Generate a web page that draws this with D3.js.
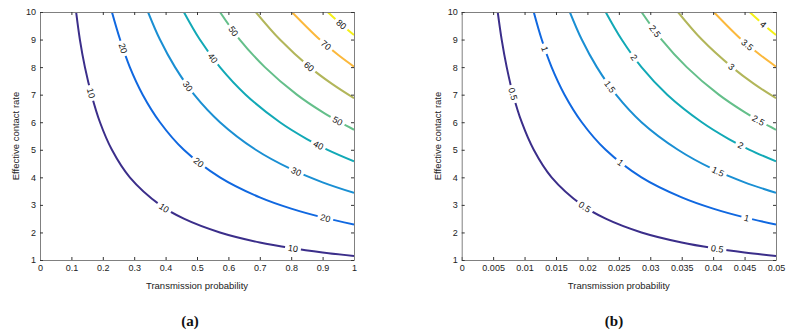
<!DOCTYPE html>
<html>
<head>
<meta charset="utf-8">
<script src="https://cdn.jsdelivr.net/npm/d3@7"></script>
<style>
  html, body { margin: 0; padding: 0; background: #fff; }
  svg { display: block; font-family: "Liberation Sans", Arial, Helvetica, sans-serif; }
</style>
</head>
<body>
<svg id="chart" width="795" height="332"></svg>
<script>
// ---------------- DATA ----------------
const yTicks = [1, 2, 3, 4, 5, 6, 7, 8, 9, 10];
const xTicksA = [0, 0.1, 0.2, 0.3, 0.4, 0.5, 0.6, 0.7, 0.8, 0.9, 1];
const xTicksB = [0, 0.005, 0.01, 0.015, 0.02, 0.025, 0.03, 0.035, 0.04, 0.045, 0.05];

const levelsA = [10, 20, 30, 40, 50, 60, 70, 80];
const levelsB = [0.5, 1, 1.5, 2, 2.5, 3, 3.5, 4];
const levelColors = ["#3b2e8a", "#1068e0", "#1a8fd3", "#12a9b6", "#64bf8a", "#b2b65a", "#fbb83c", "#f4f018"];

// contour lines, panel (a): [transmission probability, effective contact rate]
const lineA10 = [[0.115,10],[0.127,9],[0.143,8],[0.164,7],[0.191,6],[0.229,5],[0.286,4],[0.382,3],[0.458,2.5],[0.573,2],[0.7,1.636],[0.8,1.432],[0.9,1.273],[1.0,1.146]];
const lineA20 = [[0.229,10],[0.255,9],[0.286,8],[0.327,7],[0.382,6],[0.458,5],[0.573,4],[0.7,3.273],[0.8,2.864],[0.9,2.546],[1,2.291]];
const lineA30 = [[0.344,10],[0.382,9],[0.43,8],[0.491,7],[0.573,6],[0.687,5],[0.8,4.295],[0.9,3.818],[1,3.436]];
const lineA40 = [[0.458,10],[0.509,9],[0.573,8],[0.655,7],[0.764,6],[0.85,5.39],[0.916,5],[1,4.582]];
const lineA50 = [[0.573,10],[0.636,9],[0.716,8],[0.818,7],[0.9,6.364],[0.955,6],[1,5.727]];
const lineA60 = [[0.687,10],[0.764,9],[0.859,8],[0.93,7.39],[1,6.873]];
const lineA70 = [[0.802,10],[0.891,9],[0.95,8.44],[1,8.018]];
const lineA80 = [[0.916,10],[0.96,9.546],[1,9.164]];

// contour lines, panel (b)
const lineB05 = [[0.00573,10],[0.00636,9],[0.00716,8],[0.00818,7],[0.00955,6],[0.01146,5],[0.0143,4],[0.0191,3],[0.0229,2.5],[0.0286,2],[0.035,1.636],[0.04,1.432],[0.045,1.273],[0.05,1.146]];
const lineB10 = [[0.01146,10],[0.01273,9],[0.0143,8],[0.01636,7],[0.0191,6],[0.0229,5],[0.0286,4],[0.035,3.273],[0.04,2.864],[0.045,2.546],[0.05,2.291]];
const lineB15 = [[0.0172,10],[0.0191,9],[0.0215,8],[0.02455,7],[0.0286,6],[0.0344,5],[0.04,4.295],[0.045,3.818],[0.05,3.436]];
const lineB20 = [[0.0229,10],[0.02545,9],[0.0286,8],[0.0327,7],[0.0382,6],[0.0425,5.39],[0.0458,5],[0.05,4.582]];
const lineB25 = [[0.0286,10],[0.0318,9],[0.0358,8],[0.0409,7],[0.045,6.364],[0.0477,6],[0.05,5.727]];
const lineB30 = [[0.0344,10],[0.0382,9],[0.043,8],[0.0465,7.39],[0.05,6.873]];
const lineB35 = [[0.0401,10],[0.0445,9],[0.0475,8.44],[0.05,8.018]];
const lineB40 = [[0.0458,10],[0.048,9.546],[0.05,9.164]];

// inline contour labels: [level, approx x, approx y]
const labelsA = [[10,0.153,7.02],[10,0.392,2.85],[10,0.806,1.40],[20,0.261,8.66],[20,0.503,4.52],[20,0.908,2.49],
  [30,0.468,7.28],[30,0.815,4.19],[40,0.545,8.29],[40,0.885,5.14],[50,0.611,9.27],[50,0.946,6.01],
  [60,0.853,7.97],[70,0.911,8.80],[80,0.959,9.53]];
const labelsB = [[0.5,0.00768,6.99],[0.5,0.0195,2.92],[0.5,0.0406,1.40],[1,0.0131,8.66],[1,0.0252,4.52],[1,0.0453,2.49],
  [1.5,0.0233,7.24],[1.5,0.0407,4.19],[2,0.0273,8.33],[2,0.0443,5.14],[2.5,0.0305,9.27],[2.5,0.0471,6.04],
  [3,0.0428,8.0],[3.5,0.0453,8.77],[4,0.0479,9.53]];

const xTitle = "Transmission probability";
const yTitle = "Effective contact rate";

// ---------------- DRAWING ----------------
const svg = d3.select("#chart");
const SANS = '"Liberation Sans", Arial, Helvetica, sans-serif';
const SERIF = '"Liberation Serif", "Times New Roman", "DejaVu Serif", serif';

function drawPanel(cfg) {
  const x = d3.scaleLinear().domain(cfg.xDomain).range([cfg.left, cfg.right]);
  const y = d3.scaleLinear().domain([1, 10]).range([260, 12]);
  const g = svg.append("g");

  const clipId = "clip" + cfg.id;
  svg.append("defs").append("clipPath").attr("id", clipId)
    .append("rect").attr("x", cfg.left).attr("y", 12)
    .attr("width", cfg.right - cfg.left).attr("height", 248);

  const line = d3.line().x(d => x(d[0])).y(d => y(d[1])).curve(d3.curveCatmullRom.alpha(0.5));

  const lines = g.append("g").attr("clip-path", `url(#${clipId})`);
  const paths = {};
  cfg.lines.forEach((pts, i) => {
    const p = lines.append("path")
      .attr("d", line(pts))
      .attr("fill", "none")
      .attr("stroke", levelColors[i])
      .attr("stroke-width", 2);
    paths[cfg.levels[i]] = p.node();
  });

  // labels
  const lab = g.append("g");
  cfg.labels.forEach(([lev, lx, ly]) => {
    const node = paths[lev];
    const tx = x(lx), ty = y(ly);
    const len = node.getTotalLength();
    let best = 0, bd = Infinity;
    for (let s = 0; s <= len; s += 0.5) {
      const pt = node.getPointAtLength(s);
      const dd = (pt.x - tx) ** 2 + (pt.y - ty) ** 2;
      if (dd < bd) { bd = dd; best = s; }
    }
    const p0 = node.getPointAtLength(Math.max(0, best - 4));
    const p1 = node.getPointAtLength(Math.min(len, best + 4));
    const pc = node.getPointAtLength(best);
    let ang = Math.atan2(p1.y - p0.y, p1.x - p0.x) * 180 / Math.PI;
    if (ang > 90) ang -= 180;
    if (ang < -90) ang += 180;
    const lg = lab.append("g").attr("transform", `translate(${pc.x},${pc.y}) rotate(${ang})`);
    const bg = lg.append("rect").attr("fill", "#fff");
    const t = lg.append("text")
      .attr("text-anchor", "middle")
      .attr("dy", "0.35em")
      .attr("font-size", 9)
      .attr("font-family", SANS)
      .attr("fill", "#111")
      .text(d3.format("~g")(lev));
    const w = t.node().getComputedTextLength();
    bg.attr("x", -w / 2 - 3).attr("y", -4).attr("width", w + 6).attr("height", 8);
  });

  // axes (ticks inward, box on)
  const fmt = d3.format("~g");
  const axB = g.append("g").attr("transform", "translate(0,260)")
    .call(d3.axisBottom(x).tickValues(cfg.xTicks).tickFormat(fmt).tickSizeInner(-3).tickSizeOuter(0).tickPadding(5));
  const axT = g.append("g").attr("transform", "translate(0,12)")
    .call(d3.axisTop(x).tickValues(cfg.xTicks).tickFormat("").tickSizeInner(-3).tickSizeOuter(0));
  const axL = g.append("g").attr("transform", `translate(${cfg.left},0)`)
    .call(d3.axisLeft(y).tickValues(yTicks).tickFormat(fmt).tickSizeInner(-3).tickSizeOuter(0).tickPadding(4));
  const axR = g.append("g").attr("transform", `translate(${cfg.right},0)`)
    .call(d3.axisRight(y).tickValues(yTicks).tickFormat("").tickSizeInner(-3).tickSizeOuter(0));
  [axB, axT, axL, axR].forEach(a => {
    a.select(".domain").attr("stroke", "#808080").attr("stroke-width", 1);
    a.selectAll(".tick line").attr("stroke", "#333");
    a.selectAll(".tick text").attr("font-size", 9).attr("fill", "#222")
      .attr("font-family", SANS);
  });

  // titles
  g.append("text").attr("x", (cfg.left + cfg.right) / 2).attr("y", 289)
    .attr("text-anchor", "middle").attr("font-size", 9.5).attr("font-family", SANS)
    .attr("fill", "#222").text(xTitle);
  g.append("text").attr("transform", `translate(${cfg.yTitleX},136) rotate(-90)`)
    .attr("text-anchor", "middle").attr("font-size", 9.5).attr("font-family", SANS)
    .attr("fill", "#222").text(yTitle);
  g.append("text").attr("x", cfg.capX).attr("y", 326)
    .attr("text-anchor", "middle").attr("font-size", 15).attr("font-weight", "bold")
    .attr("font-family", SERIF).attr("fill", "#111")
    .text(cfg.caption);
}

drawPanel({
  id: "A", left: 40, right: 354, xDomain: [0, 1], xTicks: xTicksA,
  lines: [lineA10, lineA20, lineA30, lineA40, lineA50, lineA60, lineA70, lineA80],
  levels: levelsA, labels: labelsA, yTitleX: 19, capX: 190, caption: "(a)"
});
drawPanel({
  id: "B", left: 461.7, right: 776, xDomain: [0, 0.05], xTicks: xTicksB,
  lines: [lineB05, lineB10, lineB15, lineB20, lineB25, lineB30, lineB35, lineB40],
  levels: levelsB, labels: labelsB, yTitleX: 441, capX: 614, caption: "(b)"
});
</script>
</body>
</html>
